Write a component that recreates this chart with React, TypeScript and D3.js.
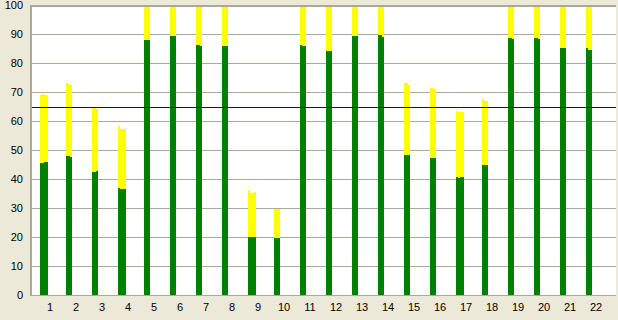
import React from "react";
import * as d3 from "d3";

const categories = ["1","2","3","4","5","6","7","8","9","10","11","12","13","14","15","16","17","18","19","20","21","22"];
// each bar is made of thin sub-columns with slightly different heights
const greenValues: number[][] = [
  [45.5, 45.5, 45.9, 45.9],
  [47.9, 47.9, 47.6],
  [42.4, 42.4, 42.8],
  [36.9, 36.6, 36.6, 36.6],
  [87.9, 87.9, 87.9],
  [89.3, 89.3, 89.3],
  [86.2, 86.2, 85.9],
  [85.9, 85.9, 85.9],
  [20.0, 20.0, 20.0, 20.0],
  [19.7, 19.7, 19.7],
  [86.2, 85.9, 85.9],
  [84.1, 84.1, 84.1],
  [89.3, 89.3, 89.3],
  [89.7, 89.7, 89.0],
  [48.3, 48.3, 48.3],
  [47.2, 47.2, 47.2],
  [40.7, 40.3, 40.7, 40.7],
  [44.8, 44.8, 44.8],
  [88.6, 88.6, 88.3],
  [88.6, 88.6, 88.3],
  [85.2, 85.2, 85.2],
  [85.2, 84.5, 84.5],
];
const totalValues: number[][] = [
  [68.9, 69.3, 68.9, 68.9],
  [73.1, 72.8, 72.4],
  [64.5, 64.5, 64.1],
  [58.3, 57.2, 57.2, 57.2],
  [100, 100, 100],
  [100, 100, 100],
  [100, 100, 100],
  [100, 100, 100],
  [36.2, 35.2, 35.2, 35.5],
  [29.7, 29.7, 29.7],
  [100, 100, 100],
  [100, 100, 100],
  [100, 100, 100],
  [100, 100, 100],
  [73.1, 73.1, 72.4],
  [71.4, 71.4, 71.0],
  [63.4, 63.1, 63.1, 63.1],
  [67.6, 66.9, 66.9],
  [100, 100, 100],
  [100, 100, 100],
  [100, 100, 100],
  [100, 100, 100],
];
const yTicks = [0, 10, 20, 30, 40, 50, 60, 70, 80, 90, 100];
const referenceValue = 65;

const W = 618, H = 320;
const plotLeft = 30, plotRight = 616, plotTop = 5, plotBottom = 295;
const SUB_W = 2;
const BEIGE = "#ECE9D8";
const GRAY = "#ACA899";
const font = "'Liberation Sans', Arial, sans-serif";

export default function App() {
  const x = d3.scaleLinear().domain([1, 22]).range([50, 596]);
  const y = d3.scaleLinear().domain([0, 100]).range([plotBottom, plotTop]);

  return (
    <svg width={W} height={H} style={{ position: "absolute", left: 0, top: 0, display: "block" }}>
      <rect x={0} y={0} width={W} height={H} fill={BEIGE} />
      <rect x={plotLeft} y={plotTop} width={plotRight - plotLeft} height={plotBottom - plotTop} fill="#fff" />
      {yTicks.filter(t => t > 0 && t < 100).map(t => (
        <line key={t} x1={plotLeft} x2={plotRight} y1={Math.round(y(t)) + 0.5} y2={Math.round(y(t)) + 0.5} stroke={GRAY} strokeWidth={1} />
      ))}
      {categories.map((c, i) => {
        const left = x(i + 1) - 10;
        return (
          <g key={c}>
            {totalValues[i].map((tv, j) => {
              const gv = greenValues[i][j];
              const xs = left + j * SUB_W;
              const yt = Math.round(y(tv));
              const yg = Math.round(y(gv));
              return (
                <g key={j}>
                  <rect x={xs} y={yt} width={SUB_W} height={yg - yt} fill="#FFFF00" shapeRendering="crispEdges" />
                  <rect x={xs} y={yg} width={SUB_W} height={plotBottom - yg} fill="#008000" shapeRendering="crispEdges" />
                </g>
              );
            })}
          </g>
        );
      })}
      <line x1={plotLeft} x2={plotRight} y1={Math.round(y(referenceValue)) + 0.5} y2={Math.round(y(referenceValue)) + 0.5} stroke="#0000C8" strokeWidth={1} />
      {/* borders */}
      <rect x={plotLeft} y={plotTop} width={2} height={plotBottom - plotTop + 1} fill={GRAY} shapeRendering="crispEdges" />
      <rect x={plotLeft} y={plotTop} width={plotRight - plotLeft} height={2} fill={GRAY} shapeRendering="crispEdges" />
      <rect x={plotLeft} y={plotBottom} width={plotRight - plotLeft} height={1} fill={GRAY} shapeRendering="crispEdges" />
      {yTicks.map(t => (
        <text key={t} x={23} y={y(t) + 4} textAnchor="end" fontFamily={font} fontSize={11} fill="#000">{t}</text>
      ))}
      {categories.map((c, i) => (
        <text key={c} x={x(i + 1)} y={311} textAnchor="middle" fontFamily={font} fontSize={11} fill="#000">{c}</text>
      ))}
    </svg>
  );
}
